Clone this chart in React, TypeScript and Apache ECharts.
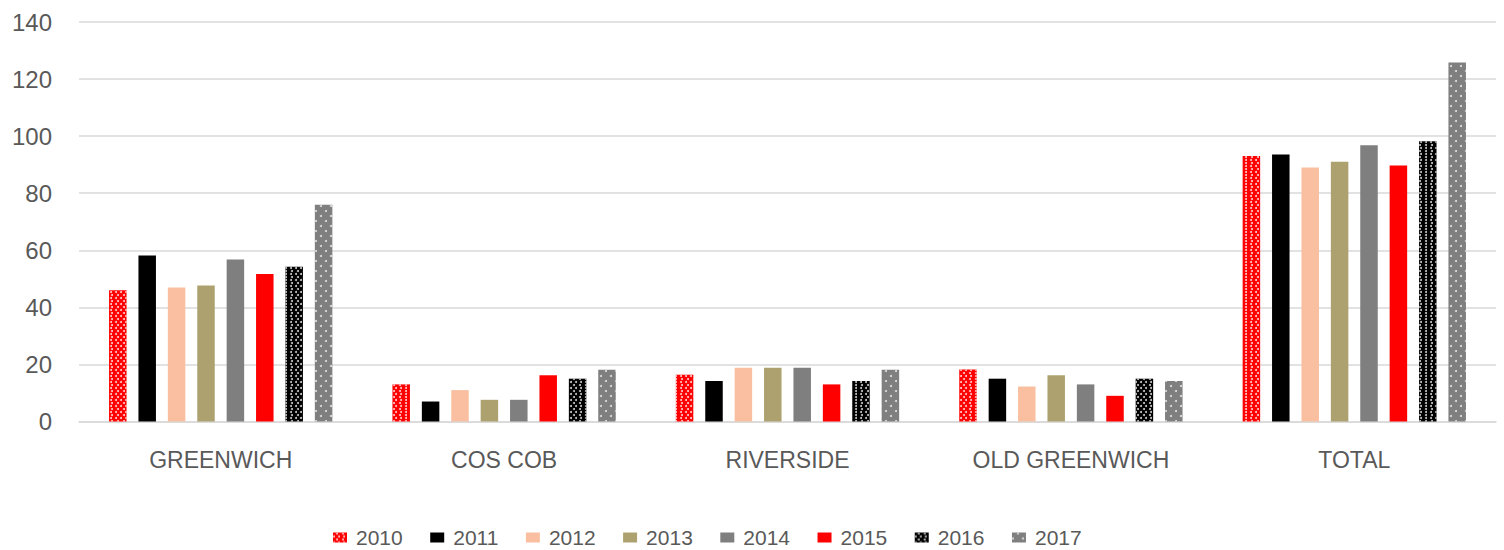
import React, { useEffect, useRef } from "react";
import * as echarts from "echarts";

const categories = ["GREENWICH", "COS COB", "RIVERSIDE", "OLD GREENWICH", "TOTAL"];
const years = ["2010", "2011", "2012", "2013", "2014", "2015", "2016", "2017"];

const y2010 = [46, 13, 16.4, 18.2, 93];
const y2011 = [58.2, 7, 14.2, 15, 93.6];
const y2012 = [47, 11, 18.8, 12.3, 89];
const y2013 = [47.7, 7.6, 18.8, 16.2, 91];
const y2014 = [56.8, 7.6, 18.8, 13, 96.8];
const y2015 = [51.7, 16.2, 13, 9, 89.7];
const y2016 = [54.2, 15, 14.2, 15, 98.2];
const y2017 = [76, 18.1, 18.1, 14.2, 125.8];

const seriesValues = [y2010, y2011, y2012, y2013, y2014, y2015, y2016, y2017];
const colors = ["#ff0000", "#000000", "#f9bfa0", "#ada26f", "#7f7f7f", "#ff0000", "#000000", "#7f7f7f"];

const denseDots = {
  symbol: "circle",
  symbolSize: 1,
  color: "rgba(255,255,255,0.8)",
  dashArrayX: [[1.8, 2.6], [0, 2.2, 1.8, 0.4]],
  dashArrayY: [1.8, 0.6],
};
const sparseDots = {
  symbol: "circle",
  symbolSize: 1,
  color: "rgba(230,230,230,0.95)",
  dashArrayX: [[2, 8], [0, 5, 2, 3]],
  dashArrayY: [2, 3],
};
const decals: any[] = [denseDots, null, null, null, null, null, denseDots, sparseDots];

const FONT = "'Liberation Sans', Arial, sans-serif";
const TEXT = "#595959";

export default function App() {
  const ref = useRef<HTMLDivElement>(null);
  useEffect(() => {
    if (!ref.current) return;
    const chart = echarts.init(ref.current, null, { renderer: "svg" });
    chart.setOption({
      animation: false,
      backgroundColor: "#ffffff",
      grid: { left: 79, right: 8, top: 22, bottom: 128.5, containLabel: false },
      legend: {
        left: 333,
        top: 527,
        padding: 0,
        itemWidth: 14,
        itemHeight: 10,
        itemGap: 27.5,
        icon: "rect",
        textStyle: { color: TEXT, fontFamily: FONT, fontSize: 21, lineHeight: 21, padding: [0, 0, 0, 4] },
        data: years,
      },
      xAxis: {
        type: "category",
        data: categories,
        axisTick: { show: false },
        axisLine: { show: true, lineStyle: { color: "#d9d9d9", width: 1.5 } },
        axisLabel: { color: TEXT, fontFamily: FONT, fontSize: 23, lineHeight: 23, margin: 27 },
      },
      yAxis: {
        type: "value",
        min: 0,
        max: 140,
        interval: 20,
        axisLine: { show: false },
        axisTick: { show: false },
        splitLine: { lineStyle: { color: "#d9d9d9", width: 1.5 } },
        axisLabel: { color: TEXT, fontFamily: FONT, fontSize: 24, margin: 27 },
      },
      series: years.map((y, i) => ({
        name: y,
        type: "bar",
        data: seriesValues[i],
        barWidth: 17.5,
        barGap: "68%",
        itemStyle: {
          color: colors[i],
          ...(decals[i] ? { decal: decals[i] } : {}),
        },
      })),
    });
    return () => chart.dispose();
  }, []);
  return (
    <div
      ref={ref}
      style={{ position: "absolute", left: 0, top: 0, width: 1504, height: 550 }}
    />
  );
}
